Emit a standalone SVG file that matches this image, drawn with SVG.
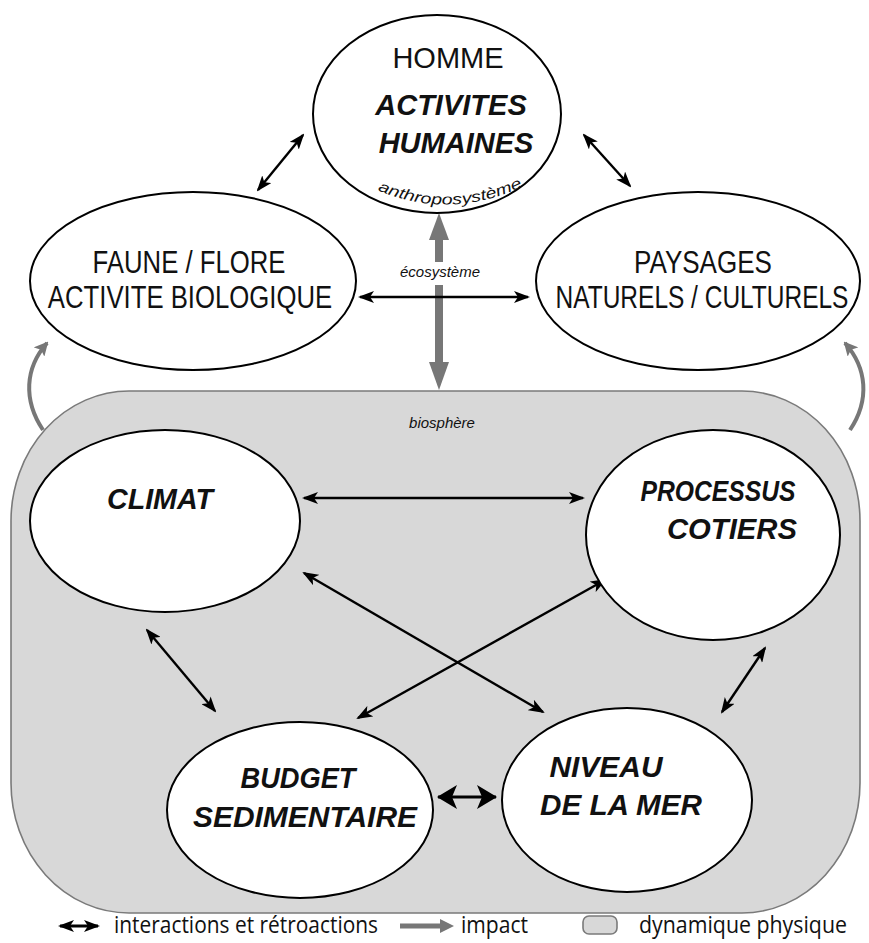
<svg xmlns="http://www.w3.org/2000/svg" width="869" height="943" viewBox="0 0 869 943">
  <defs>
    <marker id="ah" viewBox="0 0 16 12" refX="14" refY="6" markerWidth="16" markerHeight="12" markerUnits="userSpaceOnUse" orient="auto-start-reverse">
      <path d="M0,0 L16,6 L0,12 L4,6 Z" fill="#000"/>
    </marker>
    <marker id="ahBig" viewBox="0 0 20 24" refX="19" refY="12" markerWidth="20" markerHeight="24" markerUnits="userSpaceOnUse" orient="auto-start-reverse">
      <path d="M0,0 L20,12 L0,24 L5,12 Z" fill="#000"/>
    </marker>
    <marker id="ahGray" viewBox="0 0 14 14" refX="12" refY="7" markerWidth="14" markerHeight="14" markerUnits="userSpaceOnUse" orient="auto">
      <path d="M0,0 L14,7 L0,14 L3,7 Z" fill="#777"/>
    </marker>
  </defs>
  <style>
    .node { fill: #fff; stroke: #000; stroke-width: 2; }
    .zone { fill: #d8d8d8; stroke: #7a7a7a; stroke-width: 1.6; }
    .lbl { font-family: "Liberation Sans", Arial, sans-serif; font-size: 29px; fill: #111; text-anchor: middle; }
    .cond { font-size: 31px; }
    .bi { font-weight: bold; font-style: italic; }
    .small { font-family: "Liberation Sans", Arial, sans-serif; font-size: 15px; font-style: italic; fill: #111; text-anchor: middle; }
    .leg { font-family: "Open Sans", "Liberation Sans", sans-serif; font-size: 23px; fill: #111; }
    .link { stroke: #000; stroke-width: 2.4; fill: none; marker-start: url(#ah); marker-end: url(#ah); }
    .impact { stroke: #777; fill: none; }
  </style>

  <rect width="869" height="943" fill="#fff"/>

  <!-- physical dynamics zone -->
  <g id="biosphere">
    <rect class="zone" x="11" y="391" width="849" height="522" rx="118" ry="130"/>
    <text class="small" x="442" y="428">biosphère</text>
  </g>

  <!-- impact arrows (grey) -->
  <g id="impacts">
    <path class="impact" stroke-width="8" d="M439,262 V238"/>
    <path d="M439,213 L449,240 L429,240 Z" fill="#777"/>
    <path class="impact" stroke-width="8" d="M439,285 V364"/>
    <path d="M439,390 L449,362 L429,362 Z" fill="#777"/>
    <path class="impact" stroke-width="4" d="M43,430 C23,400 25,368 47,343" marker-end="url(#ahGray)"/>
    <path class="impact" stroke-width="4" d="M850,430 C870,400 867,368 845,343" marker-end="url(#ahGray)"/>
  </g>

  <!-- interaction connectors -->
  <g id="connectors">
    <line class="link" x1="258" y1="190" x2="303" y2="135"/>
    <line class="link" x1="584" y1="135" x2="630" y2="186"/>
    <line class="link" x1="360" y1="297" x2="528" y2="297"/>
    <line class="link" x1="304" y1="498" x2="583" y2="498"/>
    <line class="link" x1="304" y1="573" x2="543" y2="712"/>
    <line class="link" x1="605" y1="580" x2="358" y2="718"/>
    <line class="link" x1="147" y1="630" x2="215" y2="711"/>
    <line class="link" x1="765" y1="648" x2="722" y2="712"/>
    <line stroke="#000" stroke-width="3" x1="438" y1="797" x2="496" y2="797" marker-start="url(#ahBig)" marker-end="url(#ahBig)"/>
  </g>

  <g id="homme">
    <ellipse class="node" cx="437" cy="114" rx="124" ry="99"/>
    <text class="lbl" x="448" y="68">HOMME</text>
    <text class="lbl bi" x="451" y="115" font-size="30">ACTIVITES</text>
    <text class="lbl bi" x="456" y="153" font-size="30">HUMAINES</text>
    <path id="anthroArc" d="M366,185 Q449,226 534,181" fill="none"/>
    <text class="small" font-size="17"><textPath href="#anthroArc" startOffset="50%" textLength="150" lengthAdjust="spacingAndGlyphs">anthroposystème</textPath></text>
  </g>

  <g id="faune">
    <ellipse class="node" cx="193" cy="281" rx="163" ry="89"/>
    <text class="lbl cond" transform="translate(189 273) scale(0.83 1)">FAUNE / FLORE</text>
    <text class="lbl cond" transform="translate(190 308) scale(0.83 1)">ACTIVITE BIOLOGIQUE</text>
  </g>

  <g id="paysages">
    <ellipse class="node" cx="698" cy="281" rx="162" ry="89"/>
    <text class="lbl cond" transform="translate(703 273) scale(0.84 1)">PAYSAGES</text>
    <text class="lbl cond" transform="translate(702 308) scale(0.79 1)">NATURELS / CULTURELS</text>
  </g>

  <text class="small" x="440" y="277">écosystème</text>

  <g id="climat">
    <ellipse class="node" cx="165" cy="521" rx="135" ry="91"/>
    <text class="lbl bi" x="160" y="509" textLength="106" lengthAdjust="spacingAndGlyphs">CLIMAT</text>
  </g>

  <g id="processus">
    <ellipse class="node" cx="713" cy="535" rx="127" ry="105"/>
    <text class="lbl bi" x="718" y="501" textLength="155" lengthAdjust="spacingAndGlyphs">PROCESSUS</text>
    <text class="lbl bi" x="732" y="539" textLength="130" lengthAdjust="spacingAndGlyphs">COTIERS</text>
  </g>

  <g id="budget">
    <ellipse class="node" cx="300" cy="810" rx="133" ry="88"/>
    <text class="lbl bi" x="298" y="788" textLength="115" lengthAdjust="spacingAndGlyphs">BUDGET</text>
    <text class="lbl bi" x="305" y="827" textLength="224" lengthAdjust="spacingAndGlyphs">SEDIMENTAIRE</text>
  </g>

  <g id="niveau">
    <ellipse class="node" cx="627" cy="800" rx="125" ry="92"/>
    <text class="lbl bi" x="606" y="777" textLength="113" lengthAdjust="spacingAndGlyphs">NIVEAU</text>
    <text class="lbl bi" x="621" y="815" textLength="162" lengthAdjust="spacingAndGlyphs">DE LA MER</text>
  </g>

  <!-- legend -->
  <g id="legend">
    <line stroke="#000" stroke-width="3" x1="60" y1="926" x2="98" y2="926" marker-start="url(#ah)" marker-end="url(#ah)"/>
    <text class="leg" x="114" y="933" textLength="264" lengthAdjust="spacingAndGlyphs">interactions et rétroactions</text>
    <line stroke="#777" stroke-width="5" x1="400" y1="926" x2="442" y2="926"/>
    <path d="M454,926 L440,919 L440,933 Z" fill="#777"/>
    <text class="leg" x="461" y="933" textLength="67" lengthAdjust="spacingAndGlyphs">impact</text>
    <rect class="zone" x="583" y="916" width="34" height="18" rx="6"/>
    <text class="leg" x="639" y="933" textLength="208" lengthAdjust="spacingAndGlyphs">dynamique physique</text>
  </g>
</svg>
